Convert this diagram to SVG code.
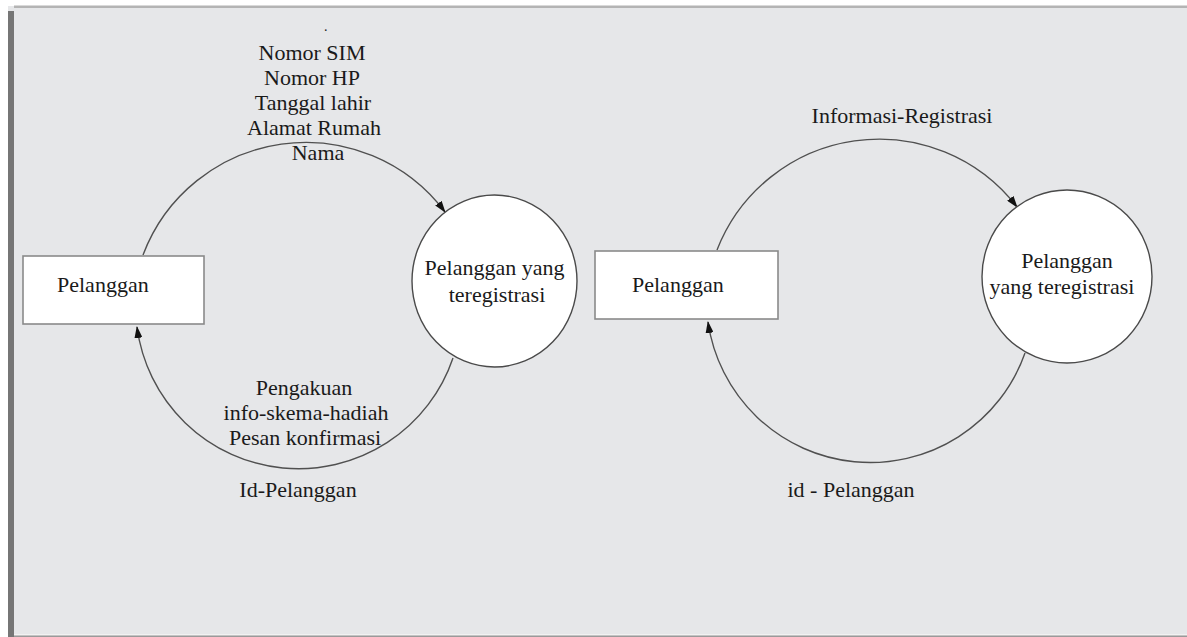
<svg xmlns="http://www.w3.org/2000/svg" width="1187" height="637" viewBox="0 0 1187 637">
<style>
text{font-family:'Liberation Serif','Tinos','DejaVu Serif',serif;font-size:22px;fill:#1a1a1a}
.m{text-anchor:middle}
.box{fill:#ffffff;stroke:#8a8a8a;stroke-width:1.6}
.proc{fill:#ffffff;stroke:#4a4a4a;stroke-width:1.4}
.flow{fill:none;stroke:#505050;stroke-width:1.4;marker-end:url(#arr)}
</style>
<defs>
<marker id="arr" viewBox="0 0 12 8" refX="11" refY="4" markerWidth="12" markerHeight="8" markerUnits="userSpaceOnUse" orient="auto">
<path d="M0,0 L12,4 L0,8 z" fill="#111"/>
</marker>
</defs>
<rect x="0" y="0" width="1187" height="637" fill="#ffffff"/>
<rect x="8" y="6" width="1179" height="631" fill="#e6e7e9"/>
<rect x="14" y="5.5" width="1173" height="2.5" fill="#b4b4b4"/>
<rect x="8" y="11" width="6" height="626" fill="#767676"/>
<rect x="14" y="634" width="1173" height="1.5" fill="#f2f2f2"/>
<rect x="14" y="635.5" width="1173" height="1.5" fill="#9a9a9a"/>

<g id="connectors">
<path class="flow" d="M 143 255 A 174 174 0 0 1 445 212"/>
<path class="flow" d="M 453 358 A 163 163 0 0 1 137 327"/>
<path class="flow" d="M 717 250 A 174 174 0 0 1 1017 207"/>
<path class="flow" d="M 1025 353 A 164 164 0 0 1 708 322"/>
</g>

<g id="labels">
<text x="324" y="31" style="font-size:14px">.</text>
<text class="m" x="312" y="60">Nomor SIM</text>
<text class="m" x="312" y="85">Nomor HP</text>
<text class="m" x="313" y="110">Tanggal lahir</text>
<text class="m" x="314" y="135">Alamat Rumah</text>
<text class="m" x="318" y="160">Nama</text>
<text class="m" x="304" y="395">Pengakuan</text>
<text class="m" x="306" y="420">info-skema-hadiah</text>
<text class="m" x="305" y="445">Pesan konfirmasi</text>
<text class="m" x="298" y="497">Id-Pelanggan</text>
<text class="m" x="902" y="123">Informasi-Registrasi</text>
<text class="m" x="851" y="497">id - Pelanggan</text>
</g>

<g id="pelanggan1">
<rect class="box" x="23" y="256" width="181" height="68"/>
<text x="57" y="292">Pelanggan</text>
</g>

<g id="registrasi1">
<ellipse class="proc" cx="494.5" cy="281" rx="82.5" ry="86"/>
<text class="m" x="494.5" y="275">Pelanggan yang</text>
<text class="m" x="497" y="302">teregistrasi</text>
</g>

<g id="pelanggan2">
<rect class="box" x="595" y="251" width="183" height="68"/>
<text x="632" y="292">Pelanggan</text>
</g>

<g id="registrasi2">
<ellipse class="proc" cx="1067" cy="276.5" rx="85" ry="86.5"/>
<text class="m" x="1067" y="268">Pelanggan</text>
<text class="m" x="1062" y="294">yang teregistrasi</text>
</g>
</svg>
